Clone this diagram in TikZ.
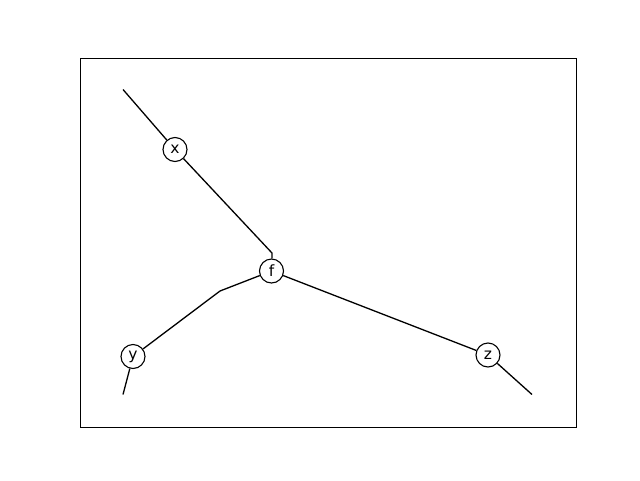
\documentclass[tikz,border=0pt]{standalone}
\usepackage{fontspec}
\setmainfont{DejaVu Sans}
\begin{document}
\begin{tikzpicture}[x=1pt,y=-1pt,
  vnode/.style={draw,circle,fill=white,minimum size=24pt,inner sep=0pt,line width=1.1pt,font=\fontsize{15.5}{18}\selectfont},
  edge/.style={line width=1.3pt}]
\useasboundingbox (0,0) rectangle (640,480);
\draw[line width=1pt] (80.5,58.5) rectangle (576,427);
\coordinate (a) at (123,89.5);
\coordinate (b) at (272,253);
\coordinate (c) at (220,291);
\coordinate (d) at (123,394.5);
\coordinate (e) at (532,394.5);
\node[vnode] (x) at (175,149.5) {x};
\node[vnode] (f) at (271.5,271) {f};
\node[vnode] (y) at (133,356.5) {y};
\node[vnode] (z) at (488,355) {z};
\draw[edge] (a) -- (x);
\draw[edge] (x) -- (b) -- (b |- f.north);
\draw[edge] (f) -- (c) -- (y);
\draw[edge] (y) -- (d);
\draw[edge] (f) -- (z);
\draw[edge] (z) -- (e);
\end{tikzpicture}
\end{document}
